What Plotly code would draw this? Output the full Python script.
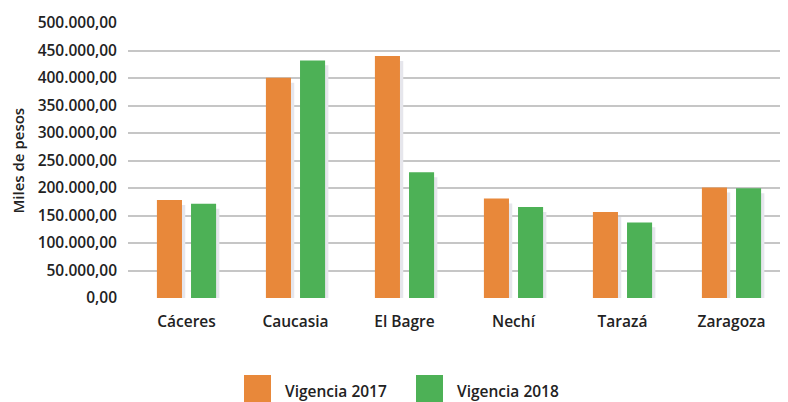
import plotly.graph_objects as go

municipios = ["Cáceres", "Caucasia", "El Bagre", "Nechí", "Tarazá", "Zaragoza"]
vigencia_2017 = [178000, 400500, 440000, 181000, 156500, 201000]
vigencia_2018 = [171500, 432000, 228500, 165500, 137500, 199500]
series_names = ["Vigencia 2017", "Vigencia 2018"]
y_ticks = list(range(0, 500001, 50000))

orange = "#E8883A"
green = "#4DB156"
shadow = "#E6E6EC"
font_fam = "Open Sans, sans-serif"
ink = "#222222"

# page body has an 8px margin, so the figure is drawn 8px smaller
FW, FH = 780, 394
L, T, PW, PH = 120, 15, 660, 275
STEP = 109  # px per category

W, GAP = 0.23, 0.083
offsets = [-W - GAP / 2, GAP / 2]
fig = go.Figure()

# soft drop-shadow behind each bar
for vals, off in zip([vigencia_2017, vigencia_2018], offsets):
    fig.add_trace(go.Bar(
        x=municipios, y=[v - 9000 for v in vals], width=W, offset=off + 0.03,
        marker=dict(color=shadow, line=dict(width=0)),
        showlegend=False, hoverinfo="skip",
    ))

for vals, off, name, col in zip([vigencia_2017, vigencia_2018], offsets,
                                series_names, [orange, green]):
    fig.add_trace(go.Bar(
        x=municipios, y=vals, width=W, offset=off, name=name,
        marker=dict(color=col, line=dict(width=0)), showlegend=False,
    ))

txt = dict(size=15.5, weight=600, color=ink)

fig.update_layout(
    width=FW, height=FH,
    margin=dict(l=L, r=FW - L - PW, t=T, b=FH - T - PH, autoexpand=False),
    barmode="overlay",
    plot_bgcolor="white", paper_bgcolor="white",
    separators=",.",
    font=dict(family=font_fam, color=ink, size=15),
    xaxis=dict(
        range=[-0.5 - 4 / STEP, len(municipios) - 0.5 + 2 / STEP],
        showgrid=False, showline=False, zeroline=False, ticks="",
        tickfont=txt, ticklabelstandoff=12, automargin=False,
    ),
    yaxis=dict(
        range=[0, 500000], tickvals=y_ticks, tickformat=",.2f",
        showgrid=True, gridcolor="#C6C6C6", gridwidth=2,
        zeroline=False, showline=False, ticks="",
        tickfont=txt, ticklabelstandoff=10, automargin=False,
    ),
    annotations=[dict(
        text="Miles de pesos", textangle=-90, xref="paper", yref="paper",
        x=(17 - 8 - L) / PW, y=0.5, showarrow=False, xanchor="center",
        font=dict(size=15, weight=600, color=ink),
    )],
)

# custom legend with large square swatches (page coordinates below)
leg = [(244, series_names[0], orange), (416, series_names[1], green)]
for px, name, col in leg:
    x0 = (px - 8 - L) / PW
    x1 = (px + 27 - 8 - L) / PW
    fig.add_shape(type="rect", xref="paper", yref="paper",
                  x0=x0, x1=x1, y0=(298 - 402) / PH, y1=(298 - 375) / PH,
                  fillcolor=col, line=dict(width=0))
    fig.add_annotation(text=name, xref="paper", yref="paper",
                       x=(px + 39 - 8 - L) / PW, y=(298 - 391) / PH,
                       xanchor="left", yanchor="middle", showarrow=False,
                       font=txt)

fig.write_html("out.html")
